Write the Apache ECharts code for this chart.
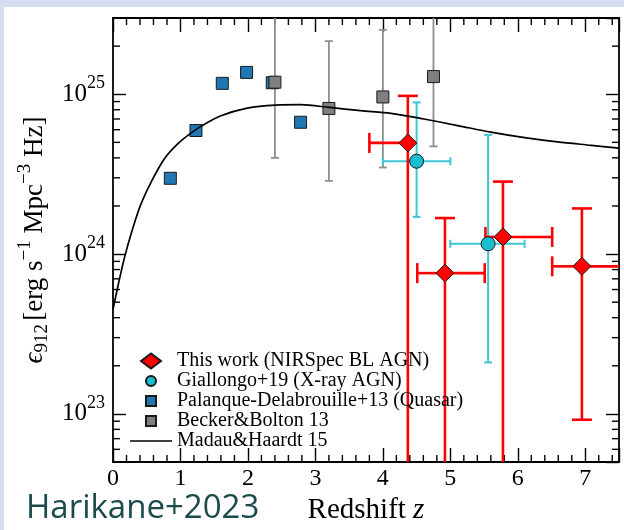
<!DOCTYPE html>
<html>
<head>
<meta charset="utf-8">
<title>Ionizing emissivity vs redshift</title>
<script src="https://cdn.jsdelivr.net/npm/echarts@6/dist/echarts.min.js"></script>
<style>
  html, body { margin: 0; padding: 0; background: #ffffff; }
  #chart { width: 624px; height: 530px; }
</style>
</head>
<body>
<div id="chart"></div>
<script>
// ---- data: redshift z and ionizing emissivity eps_912 [erg s^-1 Mpc^-3 Hz^-1] ----

// Madau & Haardt 2015 quasar emissivity curve
const mhZ   = [0, 0.08, 0.17, 0.28, 0.41, 0.58, 0.77, 0.97, 1.14, 1.29, 1.59, 1.99, 2.41, 2.78, 3.21, 3.67, 4.12, 4.61, 5.11, 5.6, 6.1, 6.59, 7.09, 7.5];
const mhEps = [4.5e23, 6.5e23, 9.5e23, 1.39e24, 2.03e24, 2.9e24, 3.99e24, 4.94e24, 5.65e24, 6.25e24, 7.31e24, 8.19e24, 8.55e24, 8.6e24, 8.27e24, 7.89e24, 7.6e24, 7.0e24, 6.37e24, 5.79e24, 5.35e24, 5.03e24, 4.79e24, 4.6e24];

// Palanque-Delabrouille+13 (quasars)
const pdZ   = [0.85, 1.23, 1.62, 1.98, 2.36, 2.78];
const pdEps = [2.98e24, 5.93e24, 1.17e25, 1.37e25, 1.18e25, 6.68e24];

// Becker & Bolton 13
const bbZ     = [2.4, 3.2, 4.0, 4.75];
const bbEps   = [1.19e25, 8.15e24, 9.62e24, 1.29e25];
const bbEpsLo = [4.0e24, 2.87e24, 3.48e24, 4.72e24];
const bbEpsHi = [3.8e25, 2.15e25, 2.53e25, 4.0e25];

// Giallongo+19 (X-ray AGN)
const giZ     = [4.5, 5.56];
const giZLo   = [4.0, 5.0];
const giZHi   = [5.0, 6.1];
const giEps   = [3.81e24, 1.16e24];
const giEpsLo = [1.71e24, 2.1e23];
const giEpsHi = [8.89e24, 5.57e24];

// This work (NIRSpec broad-line AGN)
const twZ     = [4.37, 4.92, 5.78, 6.95];
const twZLo   = [3.8, 4.51, 5.52, 6.51];
const twZHi   = [4.37, 5.51, 6.51, 7.52];
const twEps   = [4.96e24, 7.6e23, 1.28e24, 8.38e23];
const twEpsLo = [1e22, 1e22, 1e22, 9.19e22];
const twEpsHi = [9.77e24, 1.68e24, 2.84e24, 1.93e24];

// axis ranges and minor tick positions
const zRange   = [0, 7.5];
const epsRange = [5e22, 3e25];
const zMinorTicks   = [0.2, 0.4, 0.6, 0.8, 1.2, 1.4, 1.6, 1.8, 2.2, 2.4, 2.6, 2.8, 3.2, 3.4, 3.6, 3.8,
                       4.2, 4.4, 4.6, 4.8, 5.2, 5.4, 5.6, 5.8, 6.2, 6.4, 6.6, 6.8, 7.2, 7.4];
const epsMinorTicks = [6e22, 7e22, 8e22, 9e22, 2e23, 3e23, 4e23, 5e23, 6e23, 7e23, 8e23, 9e23,
                       2e24, 3e24, 4e24, 5e24, 6e24, 7e24, 8e24, 9e24, 2e25];

const NAME_TW = 'This work (NIRSpec BL AGN)';
const NAME_GI = 'Giallongo+19 (X-ray AGN)';
const NAME_PD = 'Palanque-Delabrouille+13 (Quasar)';
const NAME_BB = 'Becker&Bolton 13';
const NAME_MH = 'Madau&Haardt 15';

// ---- styling ----
const SERIF = '"Liberation Serif", "DejaVu Serif", "Times New Roman", serif';

// legend glyphs (the leading moves reserve a square box so small marks stay centred)
const ICON_DIAMOND = 'path://M0,7.5 L10,0 L20,7.5 L10,15 Z';
const ICON_CIRCLE  = 'path://M0,0 M15,15 M12.5,7.5 A5,5 0 1 1 2.5,7.5 A5,5 0 1 1 12.5,7.5 Z';
const ICON_SQUARE  = 'path://M0,0 M15,15 M2.5,2.5 L12.5,2.5 L12.5,12.5 L2.5,12.5 Z';
const ICON_LINE    = 'path://M0,0 L42,0 L42,1.6 L0,1.6 Z';

function zip(...cols) { return cols[0].map((_, i) => cols.map(c => c[i])); }

// error bars: [z, eps, zLo, zHi, epsLo, epsHi]
function errorBars(color, width, capPx) {
  return function (params, api) {
    const z = api.value(0), e = api.value(1);
    const zlo = api.value(2), zhi = api.value(3);
    const lo = api.value(4), hi = api.value(5);
    const c = api.coord([z, e]);
    const pLo = api.coord([z, lo]), pHi = api.coord([z, hi]);
    const pL = api.coord([zlo, e]), pR = api.coord([zhi, e]);
    const h = capPx / 2;
    const style = { stroke: color, lineWidth: width, fill: null };
    const kids = [];
    const seg = (x1, y1, x2, y2) => kids.push({ type: 'line', shape: { x1, y1, x2, y2 }, style });
    seg(c[0], pLo[1], c[0], pHi[1]);
    seg(c[0] - h, pHi[1], c[0] + h, pHi[1]);
    seg(c[0] - h, pLo[1], c[0] + h, pLo[1]);
    if (zlo < z) { seg(pL[0], c[1], c[0], c[1]); seg(pL[0], c[1] - h, pL[0], c[1] + h); }
    if (zhi > z) { seg(c[0], c[1], pR[0], c[1]); seg(pR[0], c[1] - h, pR[0], c[1] + h); }
    return { type: 'group', children: kids };
  };
}

function errorSeries(color, width, capPx, rows) {
  return {
    type: 'custom', coordinateSystem: 'cartesian2d', clip: true, silent: true,
    encode: { x: [0, 2, 3], y: [1, 4, 5] },
    data: rows, renderItem: errorBars(color, width, capPx)
  };
}

const tickStyle = { stroke: '#000', lineWidth: 1.4 };

const chart = echarts.init(document.getElementById('chart'), null, { renderer: 'canvas' });

const axisCommon = {
  axisLine: { show: true, onZero: false, lineStyle: { color: '#000', width: 1.8 } },
  splitLine: { show: false }
};

const option = {
  animation: false,
  backgroundColor: '#ffffff',
  graphic: [
    { type: 'rect', left: 0, top: 0, shape: { width: 624, height: 7 }, style: { fill: '#d5ddef' }, silent: true },
    { type: 'rect', left: 0, top: 0, shape: { width: 4, height: 530 }, style: { fill: '#d5ddef' }, silent: true },
    { type: 'text', left: 26, top: 492, silent: true,
      style: { text: 'Harikane+2023', fill: '#1c4b4b', font: '33px "Open Sans", "Noto Sans", sans-serif' } }
  ],
  grid: { left: 113, right: 5, top: 18, bottom: 63, containLabel: false },
  legend: {
    data: [
      { name: NAME_TW, icon: ICON_DIAMOND },
      { name: NAME_GI, icon: ICON_CIRCLE },
      { name: NAME_PD, icon: ICON_SQUARE },
      { name: NAME_BB, icon: ICON_SQUARE },
      { name: NAME_MH, icon: ICON_LINE }
    ],
    orient: 'vertical', left: 125, top: 346, padding: 5,
    itemWidth: 42, itemHeight: 15, itemGap: 0,
    symbolKeepAspect: true,
    selectedMode: false,
    textStyle: { fontFamily: SERIF, fontSize: 20, color: '#000', lineHeight: 18.6 }
  },
  xAxis: [
    Object.assign({
      type: 'value', position: 'bottom', min: zRange[0], max: zRange[1], interval: 1,
      axisTick: { show: true, inside: true, length: 14, lineStyle: { color: '#000', width: 1.4 } },
      axisLabel: {
        show: true, margin: 5, color: '#000', fontFamily: SERIF, fontSize: 24,
        formatter: v => (Number.isInteger(v) ? String(v) : '')
      },
      name: 'Redshift {i|z}', nameLocation: 'middle', nameGap: 34,
      nameTextStyle: {
        fontFamily: SERIF, fontSize: 29, color: '#000',
        rich: { i: { fontFamily: SERIF, fontSize: 29, fontStyle: 'italic', color: '#000' } }
      }
    }, axisCommon),
    Object.assign({
      type: 'value', position: 'top', min: zRange[0], max: zRange[1], interval: 1,
      axisTick: { show: true, inside: true, length: 14, lineStyle: { color: '#000', width: 1.4 } },
      axisLabel: { show: false }
    }, axisCommon)
  ],
  yAxis: [
    Object.assign({
      type: 'log', logBase: 10, position: 'left', min: epsRange[0], max: epsRange[1],
      axisTick: { show: true, inside: true, length: 13, lineStyle: { color: '#000', width: 1.4 } },
      axisLabel: {
        show: true, margin: 8, color: '#000', showMinLabel: false, showMaxLabel: false,
        formatter: function (v) {
          const p = Math.log10(v), e = Math.round(p);
          if (Math.abs(p - e) > 1e-6) return '';
          return '{b|10}{s|' + e + '}';
        },
        rich: {
          b: { fontFamily: SERIF, fontSize: 25, color: '#000' },
          s: { fontFamily: SERIF, fontSize: 18, color: '#000', padding: [0, 0, 22, 0] }
        }
      },
      name: '{e|ϵ}{sub|912} {t|[erg s}{sup|−1}{t| Mpc}{sup|−3}{t| Hz]}',
      nameLocation: 'middle', nameGap: 55,
      nameTextStyle: {
        rich: {
          e: { fontFamily: SERIF, fontSize: 27, fontStyle: 'italic', color: '#000' },
          t: { fontFamily: SERIF, fontSize: 27, color: '#000' },
          sub: { fontFamily: SERIF, fontSize: 19, color: '#000', padding: [14, 0, 0, 0] },
          sup: { fontFamily: SERIF, fontSize: 19, color: '#000', padding: [0, 0, 20, 0] }
        }
      }
    }, axisCommon),
    Object.assign({
      type: 'log', logBase: 10, position: 'right', min: epsRange[0], max: epsRange[1],
      axisTick: { show: true, inside: true, length: 13, lineStyle: { color: '#000', width: 1.4 } },
      axisLabel: { show: false }
    }, axisCommon)
  ],
  series: [
    // minor ticks on all four sides of the frame
    {
      type: 'custom', coordinateSystem: 'cartesian2d', silent: true, clip: false,
      data: zMinorTicks.map(v => [v, 1e24]),
      renderItem: function (params, api) {
        const b = api.coord([api.value(0), epsRange[0]]);
        const t = api.coord([api.value(0), epsRange[1]]);
        return { type: 'group', children: [
          { type: 'line', shape: { x1: b[0], y1: b[1], x2: b[0], y2: b[1] - 7 }, style: tickStyle },
          { type: 'line', shape: { x1: t[0], y1: t[1], x2: t[0], y2: t[1] + 7 }, style: tickStyle }
        ] };
      }
    },
    {
      type: 'custom', coordinateSystem: 'cartesian2d', silent: true, clip: false,
      data: epsMinorTicks.map(v => [1, v]),
      renderItem: function (params, api) {
        const l = api.coord([zRange[0], api.value(1)]);
        const r = api.coord([zRange[1], api.value(1)]);
        return { type: 'group', children: [
          { type: 'line', shape: { x1: l[0], y1: l[1], x2: l[0] + 7, y2: l[1] }, style: tickStyle },
          { type: 'line', shape: { x1: r[0], y1: r[1], x2: r[0] - 7, y2: r[1] }, style: tickStyle }
        ] };
      }
    },
    {
      name: NAME_MH, type: 'line', data: zip(mhZ, mhEps),
      symbol: 'none', smooth: 0.3, clip: true,
      lineStyle: { color: '#000', width: 1.7 }, itemStyle: { color: '#000' }
    },
    {
      name: NAME_PD, type: 'scatter', data: zip(pdZ, pdEps),
      symbol: 'rect', symbolSize: 12, symbolKeepAspect: true,
      itemStyle: { color: '#1f77b4', borderColor: '#1a1a1a', borderWidth: 1, opacity: 1 }
    },
    errorSeries('#8e8e8e', 1.8, 8, zip(bbZ, bbEps, bbZ, bbZ, bbEpsLo, bbEpsHi)),
    {
      name: NAME_BB, type: 'scatter', data: zip(bbZ, bbEps),
      symbol: 'rect', symbolSize: 12, symbolKeepAspect: true,
      itemStyle: { color: '#7f7f7f', borderColor: '#1a1a1a', borderWidth: 1, opacity: 1 }
    },
    errorSeries('#3ec6d3', 2, 8, zip(giZ, giEps, giZLo, giZHi, giEpsLo, giEpsHi)),
    {
      name: NAME_GI, type: 'scatter', data: zip(giZ, giEps),
      symbol: 'circle', symbolSize: 14, symbolKeepAspect: true,
      itemStyle: { color: '#17becf', borderColor: '#1a1a1a', borderWidth: 1, opacity: 1 }
    },
    errorSeries('#ff0000', 2.6, 20, zip(twZ, twEps, twZLo, twZHi, twEpsLo, twEpsHi)),
    {
      name: NAME_TW, type: 'scatter', data: zip(twZ, twEps),
      symbol: 'diamond', symbolSize: [18, 18], symbolKeepAspect: true,
      itemStyle: { color: '#ff0000', borderColor: '#1a1a1a', borderWidth: 1, opacity: 1 }
    }
  ]
};

chart.setOption(option);
</script>
</body>
</html>
